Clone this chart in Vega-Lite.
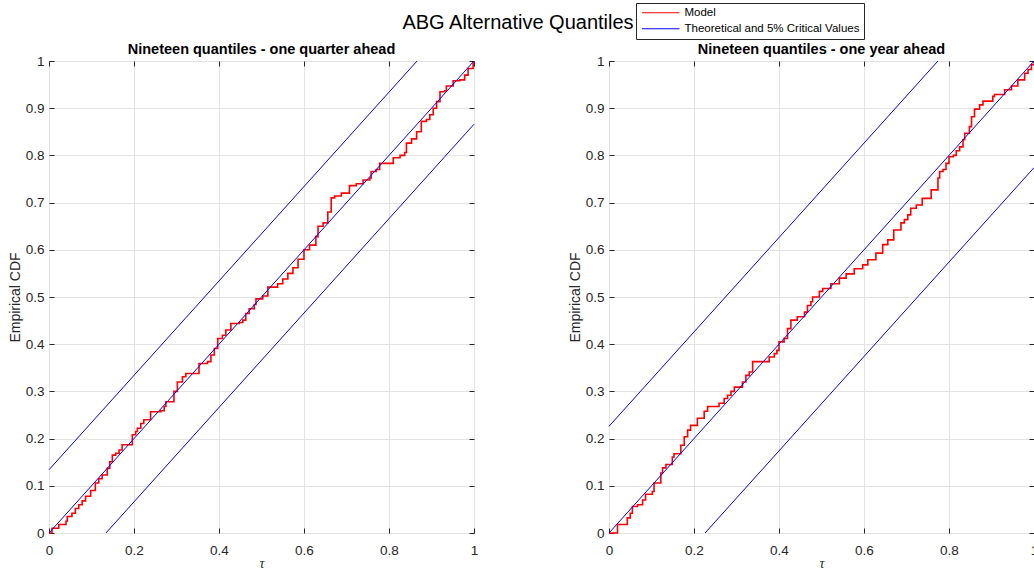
{
  "$schema": "https://vega.github.io/schema/vega-lite/v6.json",
  "padding": {"left": 7, "top": 2, "right": 0, "bottom": 0},
  "background": "white",
  "title": {"text": "ABG Alternative Quantiles", "fontSize": 20, "font": "Liberation Sans", "fontWeight": "normal", "color": "#000000", "anchor": "middle", "dx": -5, "offset": -30},
  "datasets": {
    "q": [
      {"series": "Model", "line": "m", "x": 0, "y": 0},
      {"series": "Model", "line": "m", "x": 0.007, "y": 0.01},
      {"series": "Model", "line": "m", "x": 0.023, "y": 0.018},
      {"series": "Model", "line": "m", "x": 0.04, "y": 0.025},
      {"series": "Model", "line": "m", "x": 0.043, "y": 0.035},
      {"series": "Model", "line": "m", "x": 0.054, "y": 0.042},
      {"series": "Model", "line": "m", "x": 0.062, "y": 0.052},
      {"series": "Model", "line": "m", "x": 0.07, "y": 0.06},
      {"series": "Model", "line": "m", "x": 0.078, "y": 0.068},
      {"series": "Model", "line": "m", "x": 0.086, "y": 0.078},
      {"series": "Model", "line": "m", "x": 0.098, "y": 0.09},
      {"series": "Model", "line": "m", "x": 0.109, "y": 0.106},
      {"series": "Model", "line": "m", "x": 0.117, "y": 0.115},
      {"series": "Model", "line": "m", "x": 0.125, "y": 0.123},
      {"series": "Model", "line": "m", "x": 0.137, "y": 0.137},
      {"series": "Model", "line": "m", "x": 0.143, "y": 0.151},
      {"series": "Model", "line": "m", "x": 0.149, "y": 0.165},
      {"series": "Model", "line": "m", "x": 0.157, "y": 0.169},
      {"series": "Model", "line": "m", "x": 0.165, "y": 0.176},
      {"series": "Model", "line": "m", "x": 0.172, "y": 0.187},
      {"series": "Model", "line": "m", "x": 0.196, "y": 0.208},
      {"series": "Model", "line": "m", "x": 0.204, "y": 0.215},
      {"series": "Model", "line": "m", "x": 0.208, "y": 0.222},
      {"series": "Model", "line": "m", "x": 0.216, "y": 0.232},
      {"series": "Model", "line": "m", "x": 0.223, "y": 0.24},
      {"series": "Model", "line": "m", "x": 0.239, "y": 0.257},
      {"series": "Model", "line": "m", "x": 0.263, "y": 0.259},
      {"series": "Model", "line": "m", "x": 0.271, "y": 0.268},
      {"series": "Model", "line": "m", "x": 0.275, "y": 0.278},
      {"series": "Model", "line": "m", "x": 0.294, "y": 0.3},
      {"series": "Model", "line": "m", "x": 0.302, "y": 0.32},
      {"series": "Model", "line": "m", "x": 0.314, "y": 0.331},
      {"series": "Model", "line": "m", "x": 0.322, "y": 0.338},
      {"series": "Model", "line": "m", "x": 0.353, "y": 0.359},
      {"series": "Model", "line": "m", "x": 0.373, "y": 0.363},
      {"series": "Model", "line": "m", "x": 0.381, "y": 0.377},
      {"series": "Model", "line": "m", "x": 0.389, "y": 0.391},
      {"series": "Model", "line": "m", "x": 0.397, "y": 0.412},
      {"series": "Model", "line": "m", "x": 0.408, "y": 0.419},
      {"series": "Model", "line": "m", "x": 0.416, "y": 0.43},
      {"series": "Model", "line": "m", "x": 0.428, "y": 0.444},
      {"series": "Model", "line": "m", "x": 0.448, "y": 0.446},
      {"series": "Model", "line": "m", "x": 0.456, "y": 0.451},
      {"series": "Model", "line": "m", "x": 0.463, "y": 0.465},
      {"series": "Model", "line": "m", "x": 0.471, "y": 0.475},
      {"series": "Model", "line": "m", "x": 0.483, "y": 0.484},
      {"series": "Model", "line": "m", "x": 0.487, "y": 0.496},
      {"series": "Model", "line": "m", "x": 0.503, "y": 0.502},
      {"series": "Model", "line": "m", "x": 0.515, "y": 0.521},
      {"series": "Model", "line": "m", "x": 0.538, "y": 0.528},
      {"series": "Model", "line": "m", "x": 0.55, "y": 0.538},
      {"series": "Model", "line": "m", "x": 0.562, "y": 0.55},
      {"series": "Model", "line": "m", "x": 0.574, "y": 0.562},
      {"series": "Model", "line": "m", "x": 0.586, "y": 0.58},
      {"series": "Model", "line": "m", "x": 0.6, "y": 0.6},
      {"series": "Model", "line": "m", "x": 0.613, "y": 0.61},
      {"series": "Model", "line": "m", "x": 0.628, "y": 0.628},
      {"series": "Model", "line": "m", "x": 0.633, "y": 0.65},
      {"series": "Model", "line": "m", "x": 0.645, "y": 0.657},
      {"series": "Model", "line": "m", "x": 0.656, "y": 0.68},
      {"series": "Model", "line": "m", "x": 0.664, "y": 0.71},
      {"series": "Model", "line": "m", "x": 0.672, "y": 0.714},
      {"series": "Model", "line": "m", "x": 0.688, "y": 0.72},
      {"series": "Model", "line": "m", "x": 0.707, "y": 0.736},
      {"series": "Model", "line": "m", "x": 0.723, "y": 0.74},
      {"series": "Model", "line": "m", "x": 0.739, "y": 0.748},
      {"series": "Model", "line": "m", "x": 0.755, "y": 0.752},
      {"series": "Model", "line": "m", "x": 0.758, "y": 0.766},
      {"series": "Model", "line": "m", "x": 0.77, "y": 0.77},
      {"series": "Model", "line": "m", "x": 0.778, "y": 0.783},
      {"series": "Model", "line": "m", "x": 0.81, "y": 0.795},
      {"series": "Model", "line": "m", "x": 0.826, "y": 0.8},
      {"series": "Model", "line": "m", "x": 0.837, "y": 0.806},
      {"series": "Model", "line": "m", "x": 0.841, "y": 0.826},
      {"series": "Model", "line": "m", "x": 0.853, "y": 0.835},
      {"series": "Model", "line": "m", "x": 0.865, "y": 0.85},
      {"series": "Model", "line": "m", "x": 0.876, "y": 0.872},
      {"series": "Model", "line": "m", "x": 0.888, "y": 0.876},
      {"series": "Model", "line": "m", "x": 0.896, "y": 0.886},
      {"series": "Model", "line": "m", "x": 0.904, "y": 0.9},
      {"series": "Model", "line": "m", "x": 0.912, "y": 0.914},
      {"series": "Model", "line": "m", "x": 0.92, "y": 0.935},
      {"series": "Model", "line": "m", "x": 0.931, "y": 0.937},
      {"series": "Model", "line": "m", "x": 0.935, "y": 0.947},
      {"series": "Model", "line": "m", "x": 0.951, "y": 0.958},
      {"series": "Model", "line": "m", "x": 0.967, "y": 0.96},
      {"series": "Model", "line": "m", "x": 0.978, "y": 0.97},
      {"series": "Model", "line": "m", "x": 0.986, "y": 0.984},
      {"series": "Model", "line": "m", "x": 0.998, "y": 0.995},
      {"series": "Model", "line": "m", "x": 1, "y": 1},
      {"series": "Theoretical and 5% Critical Values", "line": "diag", "x": 0, "y": 0},
      {"series": "Theoretical and 5% Critical Values", "line": "diag", "x": 1, "y": 1},
      {"series": "Theoretical and 5% Critical Values", "line": "upper", "x": 0, "y": 0.134},
      {"series": "Theoretical and 5% Critical Values", "line": "upper", "x": 0.866, "y": 1},
      {"series": "Theoretical and 5% Critical Values", "line": "lower", "x": 0.134, "y": 0},
      {"series": "Theoretical and 5% Critical Values", "line": "lower", "x": 1, "y": 0.866}
    ],
    "yr": [
      {"series": "Model", "line": "m", "x": 0, "y": 0},
      {"series": "Model", "line": "m", "x": 0.02, "y": 0.018},
      {"series": "Model", "line": "m", "x": 0.043, "y": 0.032},
      {"series": "Model", "line": "m", "x": 0.05, "y": 0.042},
      {"series": "Model", "line": "m", "x": 0.055, "y": 0.056},
      {"series": "Model", "line": "m", "x": 0.067, "y": 0.06},
      {"series": "Model", "line": "m", "x": 0.079, "y": 0.07},
      {"series": "Model", "line": "m", "x": 0.086, "y": 0.082},
      {"series": "Model", "line": "m", "x": 0.102, "y": 0.088},
      {"series": "Model", "line": "m", "x": 0.106, "y": 0.106},
      {"series": "Model", "line": "m", "x": 0.122, "y": 0.127},
      {"series": "Model", "line": "m", "x": 0.126, "y": 0.138},
      {"series": "Model", "line": "m", "x": 0.134, "y": 0.145},
      {"series": "Model", "line": "m", "x": 0.149, "y": 0.161},
      {"series": "Model", "line": "m", "x": 0.153, "y": 0.168},
      {"series": "Model", "line": "m", "x": 0.169, "y": 0.186},
      {"series": "Model", "line": "m", "x": 0.177, "y": 0.204},
      {"series": "Model", "line": "m", "x": 0.185, "y": 0.218},
      {"series": "Model", "line": "m", "x": 0.192, "y": 0.228},
      {"series": "Model", "line": "m", "x": 0.208, "y": 0.243},
      {"series": "Model", "line": "m", "x": 0.224, "y": 0.258},
      {"series": "Model", "line": "m", "x": 0.232, "y": 0.268},
      {"series": "Model", "line": "m", "x": 0.259, "y": 0.275},
      {"series": "Model", "line": "m", "x": 0.271, "y": 0.285},
      {"series": "Model", "line": "m", "x": 0.279, "y": 0.292},
      {"series": "Model", "line": "m", "x": 0.287, "y": 0.3},
      {"series": "Model", "line": "m", "x": 0.295, "y": 0.309},
      {"series": "Model", "line": "m", "x": 0.314, "y": 0.32},
      {"series": "Model", "line": "m", "x": 0.322, "y": 0.334},
      {"series": "Model", "line": "m", "x": 0.33, "y": 0.341},
      {"series": "Model", "line": "m", "x": 0.338, "y": 0.363},
      {"series": "Model", "line": "m", "x": 0.377, "y": 0.373},
      {"series": "Model", "line": "m", "x": 0.389, "y": 0.38},
      {"series": "Model", "line": "m", "x": 0.395, "y": 0.387},
      {"series": "Model", "line": "m", "x": 0.4, "y": 0.405},
      {"series": "Model", "line": "m", "x": 0.412, "y": 0.412},
      {"series": "Model", "line": "m", "x": 0.42, "y": 0.433},
      {"series": "Model", "line": "m", "x": 0.428, "y": 0.451},
      {"series": "Model", "line": "m", "x": 0.443, "y": 0.458},
      {"series": "Model", "line": "m", "x": 0.46, "y": 0.468},
      {"series": "Model", "line": "m", "x": 0.467, "y": 0.482},
      {"series": "Model", "line": "m", "x": 0.475, "y": 0.49},
      {"series": "Model", "line": "m", "x": 0.479, "y": 0.5},
      {"series": "Model", "line": "m", "x": 0.495, "y": 0.512},
      {"series": "Model", "line": "m", "x": 0.503, "y": 0.518},
      {"series": "Model", "line": "m", "x": 0.522, "y": 0.528},
      {"series": "Model", "line": "m", "x": 0.542, "y": 0.54},
      {"series": "Model", "line": "m", "x": 0.558, "y": 0.549},
      {"series": "Model", "line": "m", "x": 0.577, "y": 0.56},
      {"series": "Model", "line": "m", "x": 0.597, "y": 0.568},
      {"series": "Model", "line": "m", "x": 0.609, "y": 0.579},
      {"series": "Model", "line": "m", "x": 0.628, "y": 0.593},
      {"series": "Model", "line": "m", "x": 0.644, "y": 0.611},
      {"series": "Model", "line": "m", "x": 0.656, "y": 0.621},
      {"series": "Model", "line": "m", "x": 0.67, "y": 0.642},
      {"series": "Model", "line": "m", "x": 0.687, "y": 0.657},
      {"series": "Model", "line": "m", "x": 0.695, "y": 0.664},
      {"series": "Model", "line": "m", "x": 0.703, "y": 0.674},
      {"series": "Model", "line": "m", "x": 0.71, "y": 0.688},
      {"series": "Model", "line": "m", "x": 0.723, "y": 0.695},
      {"series": "Model", "line": "m", "x": 0.737, "y": 0.709},
      {"series": "Model", "line": "m", "x": 0.758, "y": 0.727},
      {"series": "Model", "line": "m", "x": 0.774, "y": 0.752},
      {"series": "Model", "line": "m", "x": 0.778, "y": 0.766},
      {"series": "Model", "line": "m", "x": 0.786, "y": 0.77},
      {"series": "Model", "line": "m", "x": 0.793, "y": 0.783},
      {"series": "Model", "line": "m", "x": 0.8, "y": 0.797},
      {"series": "Model", "line": "m", "x": 0.81, "y": 0.8},
      {"series": "Model", "line": "m", "x": 0.817, "y": 0.81},
      {"series": "Model", "line": "m", "x": 0.825, "y": 0.818},
      {"series": "Model", "line": "m", "x": 0.833, "y": 0.833},
      {"series": "Model", "line": "m", "x": 0.837, "y": 0.847},
      {"series": "Model", "line": "m", "x": 0.848, "y": 0.861},
      {"series": "Model", "line": "m", "x": 0.853, "y": 0.882},
      {"series": "Model", "line": "m", "x": 0.86, "y": 0.898},
      {"series": "Model", "line": "m", "x": 0.872, "y": 0.907},
      {"series": "Model", "line": "m", "x": 0.88, "y": 0.915},
      {"series": "Model", "line": "m", "x": 0.903, "y": 0.925},
      {"series": "Model", "line": "m", "x": 0.907, "y": 0.929},
      {"series": "Model", "line": "m", "x": 0.931, "y": 0.939},
      {"series": "Model", "line": "m", "x": 0.947, "y": 0.947},
      {"series": "Model", "line": "m", "x": 0.962, "y": 0.96},
      {"series": "Model", "line": "m", "x": 0.978, "y": 0.974},
      {"series": "Model", "line": "m", "x": 0.986, "y": 0.982},
      {"series": "Model", "line": "m", "x": 0.994, "y": 0.992},
      {"series": "Model", "line": "m", "x": 1, "y": 1},
      {"series": "Theoretical and 5% Critical Values", "line": "diag", "x": 0, "y": 0},
      {"series": "Theoretical and 5% Critical Values", "line": "diag", "x": 1, "y": 1},
      {"series": "Theoretical and 5% Critical Values", "line": "upper", "x": 0, "y": 0.226},
      {"series": "Theoretical and 5% Critical Values", "line": "upper", "x": 0.774, "y": 1},
      {"series": "Theoretical and 5% Critical Values", "line": "lower", "x": 0.226, "y": 0},
      {"series": "Theoretical and 5% Critical Values", "line": "lower", "x": 1, "y": 0.774}
    ]
  },
  "hconcat": [
    {
      "data": {"name": "q"},
      "title": {"text": "Nineteen quantiles - one quarter ahead"},
      "width": 425,
      "height": 472,
      "layer": [
        {
          "transform": [{"filter": "datum.series == 'Model'"}],
          "mark": {"type": "line", "interpolate": "step-after", "strokeWidth": 1.6},
          "encoding": {
            "x": {"field": "x", "type": "quantitative", "scale": {"domain": [0, 1], "nice": false},
              "axis": {"orient": "bottom", "values": [0, 0.2, 0.4, 0.6, 0.8, 1], "title": "τ", "grid": true, "labelPadding": 15, "titleFont": "Liberation Serif", "titleFontStyle": "italic", "titleFontWeight": "normal", "titleFontSize": 14, "titlePadding": 0}},
            "y": {"field": "y", "type": "quantitative", "scale": {"domain": [0, 1], "nice": false},
              "axis": {"orient": "left", "values": [0, 0.1, 0.2, 0.3, 0.4, 0.5, 0.6, 0.7, 0.8, 0.9, 1], "title": "Empirical CDF", "grid": true, "labelPadding": 10, "titlePadding": 3}},
            "color": {"field": "series", "type": "nominal", "scale": {"domain": ["Model", "Theoretical and 5% Critical Values"], "range": ["#ff0000", "#0000ff"]},
              "legend": {"orient": "none", "legendX": 587, "legendY": -58}}
          }
        },
        {
          "transform": [{"filter": "datum.series != 'Model'"}],
          "mark": {"type": "line", "strokeWidth": 1},
          "encoding": {
            "x": {"field": "x", "type": "quantitative", "scale": {"domain": [0, 1], "nice": false},
              "axis": {"orient": "top", "values": [0, 0.2, 0.4, 0.6, 0.8, 1], "labels": false, "title": null, "grid": false}},
            "y": {"field": "y", "type": "quantitative", "scale": {"domain": [0, 1], "nice": false},
              "axis": {"orient": "right", "values": [0, 0.1, 0.2, 0.3, 0.4, 0.5, 0.6, 0.7, 0.8, 0.9, 1], "labels": false, "title": null, "grid": false}},
            "detail": {"field": "line"},
            "color": {"field": "series", "type": "nominal", "scale": {"domain": ["Model", "Theoretical and 5% Critical Values"], "range": ["#ff0000", "#0000ff"]},
              "legend": {"orient": "none", "legendX": 587, "legendY": -58}}
          }
        }
      ],
      "resolve": {"axis": {"x": "independent", "y": "independent"}}
    },
    {
      "data": {"name": "yr"},
      "title": {"text": "Nineteen quantiles - one year ahead"},
      "width": 425,
      "height": 472,
      "layer": [
        {
          "transform": [{"filter": "datum.series == 'Model'"}],
          "mark": {"type": "line", "interpolate": "step-after", "strokeWidth": 1.6},
          "encoding": {
            "x": {"field": "x", "type": "quantitative", "scale": {"domain": [0, 1], "nice": false},
              "axis": {"orient": "bottom", "values": [0, 0.2, 0.4, 0.6, 0.8, 1], "title": "τ", "grid": true, "labelPadding": 15, "titleFont": "Liberation Serif", "titleFontStyle": "italic", "titleFontWeight": "normal", "titleFontSize": 14, "titlePadding": 0}},
            "y": {"field": "y", "type": "quantitative", "scale": {"domain": [0, 1], "nice": false},
              "axis": {"orient": "left", "values": [0, 0.1, 0.2, 0.3, 0.4, 0.5, 0.6, 0.7, 0.8, 0.9, 1], "title": "Empirical CDF", "grid": true, "labelPadding": 10, "titlePadding": 3}},
            "color": {"field": "series", "type": "nominal", "scale": {"domain": ["Model", "Theoretical and 5% Critical Values"], "range": ["#ff0000", "#0000ff"]},
              "legend": {"orient": "none", "legendX": 587, "legendY": -58}}
          }
        },
        {
          "transform": [{"filter": "datum.series != 'Model'"}],
          "mark": {"type": "line", "strokeWidth": 1},
          "encoding": {
            "x": {"field": "x", "type": "quantitative", "scale": {"domain": [0, 1], "nice": false},
              "axis": {"orient": "top", "values": [0, 0.2, 0.4, 0.6, 0.8, 1], "labels": false, "title": null, "grid": false}},
            "y": {"field": "y", "type": "quantitative", "scale": {"domain": [0, 1], "nice": false},
              "axis": {"orient": "right", "values": [0, 0.1, 0.2, 0.3, 0.4, 0.5, 0.6, 0.7, 0.8, 0.9, 1], "labels": false, "title": null, "grid": false}},
            "detail": {"field": "line"},
            "color": {"field": "series", "type": "nominal", "scale": {"domain": ["Model", "Theoretical and 5% Critical Values"], "range": ["#ff0000", "#0000ff"]},
              "legend": {"orient": "none", "legendX": 587, "legendY": -58}}
          }
        }
      ],
      "resolve": {"axis": {"x": "independent", "y": "independent"}}
    }
  ],
  "spacing": 88,
  "resolve": {"scale": {"color": "shared"}, "legend": {"color": "shared"}},
  "config": {
    "font": "Liberation Sans",
    "view": {"stroke": "#262626", "strokeWidth": 1},
    "axis": {
      "domain": false,
      "tickSize": -5,
      "tickColor": "#262626",
      "tickWidth": 1,
      "gridColor": "#e3e3e3",
      "gridWidth": 1,
      "labelFont": "Liberation Sans",
      "labelFontSize": 13.5,
      "labelColor": "#262626",
      "titleFont": "Liberation Sans",
      "titleFontSize": 14,
      "titleFontWeight": "normal",
      "titleColor": "#262626",
      "labelFlush": false,
      "labelOverlap": false,
      "format": "~g"
    },
    "title": {"fontSize": 14.5, "fontWeight": "bold", "font": "Liberation Sans", "color": "#000000", "offset": -3.5},
    "legend": {
      "title": null,
      "labelFontSize": 11.5,
      "labelFont": "Liberation Sans",
      "labelColor": "#000000",
      "labelLimit": 0,
      "symbolType": "M-5,0H5",
      "symbolSize": 56.25,
      "symbolStrokeWidth": 1,
      "symbolOffset": 15,
      "labelOffset": 18,
      "rowPadding": 3,
      "padding": 4,
      "strokeColor": "#262626",
      "fillColor": "#ffffff",
      "cornerRadius": 0
    }
  }
}
